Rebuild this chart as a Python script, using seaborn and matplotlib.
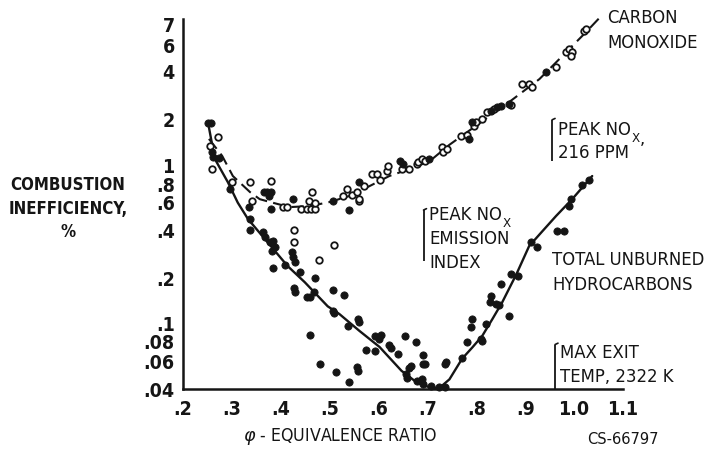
import os
import matplotlib
matplotlib.use("Agg")
import matplotlib.pyplot as plt
import matplotlib.font_manager as fm
import matplotlib.transforms as mtransforms
from matplotlib.ticker import NullFormatter
import seaborn as sns

# ---- carbon monoxide (open symbols) ----
co_phi = [0.271, 0.255, 0.259, 0.300, 0.337, 0.341, 0.380, 0.404, 0.412, 0.441,
          0.453, 0.461, 0.471, 0.463, 0.457, 0.471, 0.427, 0.427, 0.478, 0.508,
          0.527, 0.535, 0.545, 0.555, 0.559, 0.561, 0.571, 0.586, 0.596, 0.602,
          0.618, 0.620, 0.647, 0.663, 0.678, 0.680, 0.688, 0.694, 0.729, 0.731,
          0.739, 0.769, 0.780, 0.796, 0.800, 0.812, 0.822, 0.837, 0.871, 0.894,
          0.908, 0.914, 0.963, 0.984, 0.990, 0.996, 0.994, 1.020, 1.024]
co_val = [1.52, 1.33, 0.96, 0.79, 0.79, 0.60, 0.81, 0.55, 0.55, 0.54,
          0.54, 0.54, 0.54, 0.69, 0.60, 0.59, 0.40, 0.333, 0.258, 0.32,
          0.65, 0.72, 0.66, 0.69, 0.60, 0.62, 0.75, 0.89, 0.89, 0.82,
          0.93, 1.00, 0.96, 0.96, 1.03, 1.06, 1.10, 1.08, 1.31, 1.22,
          1.28, 1.54, 1.56, 1.78, 1.90, 1.97, 2.18, 2.27, 2.40, 3.27,
          3.27, 3.13, 4.20, 5.19, 5.41, 5.19, 4.90, 7.00, 7.20]

# ---- total unburned hydrocarbons (filled symbols) ----
uhc_phi = [0.251, 0.257, 0.259, 0.261, 0.273, 0.296, 0.335, 0.337, 0.337, 0.365,
           0.371, 0.380, 0.375, 0.380, 0.424, 0.506, 0.539, 0.559, 0.643, 0.651,
           0.704, 0.786, 0.792, 0.831, 0.843, 0.851, 0.867, 0.943,
           0.363, 0.367, 0.378, 0.384, 0.388, 0.382, 0.384, 0.408, 0.422, 0.424,
           0.429, 0.439, 0.427, 0.429, 0.470, 0.453, 0.459, 0.467, 0.506, 0.529,
           0.506, 0.508, 0.537, 0.557, 0.561, 0.459, 0.480, 0.512, 0.539, 0.555,
           0.557, 0.575, 0.592, 0.592, 0.600, 0.604, 0.622, 0.626, 0.639, 0.655,
           0.676, 0.690, 0.690, 0.696, 0.667, 0.663, 0.657, 0.659, 0.678, 0.688,
           0.690, 0.708, 0.724, 0.735, 0.737, 0.735, 0.771, 0.780, 0.790, 0.792,
           0.810, 0.812, 0.820, 0.831, 0.827, 0.841, 0.847, 0.851, 0.867, 0.871,
           0.886, 0.912, 0.924, 0.965, 0.980, 0.990, 0.994, 1.016, 1.031]
uhc_val = [1.86, 1.86, 1.22, 1.14, 1.12, 0.72, 0.55, 0.465, 0.40, 0.69,
           0.69, 0.69, 0.65, 0.54, 0.62, 0.60, 0.53, 0.79, 1.07, 1.03,
           1.10, 1.48, 1.89, 2.20, 2.34, 2.38, 2.45, 3.88,
           0.386, 0.36, 0.333, 0.338, 0.31, 0.292, 0.23, 0.24, 0.288, 0.27,
           0.25, 0.216, 0.172, 0.162, 0.20, 0.15, 0.15, 0.162, 0.167, 0.155,
           0.123, 0.12, 0.10, 0.11, 0.105, 0.087, 0.057, 0.051, 0.044, 0.055,
           0.052, 0.070, 0.069, 0.086, 0.082, 0.087, 0.076, 0.072, 0.066, 0.086,
           0.079, 0.065, 0.057, 0.057, 0.056, 0.054, 0.050, 0.047, 0.045, 0.046,
           0.043, 0.042, 0.041, 0.041, 0.059, 0.057, 0.063, 0.079, 0.098, 0.110,
           0.082, 0.080, 0.102, 0.153, 0.140, 0.137, 0.135, 0.182, 0.114, 0.210,
           0.205, 0.334, 0.310, 0.390, 0.390, 0.560, 0.620, 0.760, 0.820]

# ---- faired curves ----
co_curve_phi = [0.253, 0.280, 0.302, 0.337, 0.357, 0.378, 0.418, 0.459, 0.500, 0.541,
                0.582, 0.622, 0.663, 0.704, 0.745, 0.806, 0.873, 0.929, 0.976, 1.024,
                1.055]
co_curve_val = [1.48, 1.16, 0.866, 0.687, 0.62, 0.595, 0.553, 0.561, 0.595, 0.65,
                0.75, 0.866, 0.958, 1.07, 1.36, 1.85, 2.6, 3.51, 4.9, 6.9,
                8.7]
uhc_curve_phi = [0.251, 0.265, 0.292, 0.312, 0.333, 0.373, 0.414, 0.449, 0.496, 0.520,
                 0.561, 0.602, 0.647, 0.678, 0.704, 0.724, 0.745, 0.771, 0.792, 0.812,
                 0.833, 0.853, 0.882, 0.908, 0.935, 0.963, 0.996, 1.037]
uhc_curve_val = [1.89, 1.11, 0.79, 0.59, 0.465, 0.333, 0.236, 0.187, 0.132, 0.118,
                 0.0925, 0.0734, 0.052, 0.044, 0.041, 0.0405, 0.046, 0.062, 0.073, 0.086,
                 0.110, 0.140, 0.21, 0.315, 0.39, 0.486, 0.62, 0.866]

# ---- axis ticks ----
x_ticks = [0.2, 0.3, 0.4, 0.5, 0.6, 0.7, 0.8, 0.9, 1.0, 1.1]
x_labels = [".2", ".3", ".4", ".5", ".6", ".7", ".8", ".9", "1.0", "1.1"]
y_major = [7, 6, 4, 2, 1, 0.8, 0.6, 0.4, 0.2, 0.1, 0.08, 0.06, 0.04]
y_labels = ["7", "6", "4", "2", "1", ".8", ".6", ".4", ".2", ".1", ".08", ".06", ".04"]
y_minor = [5, 3, 0.9, 0.7, 0.5, 0.3, 0.09, 0.07, 0.05]

# equivalence ratios marked by the brackets
peak_nox_ppm_phi = 0.955
peak_nox_ei_phi = 0.692
max_temp_phi = 0.961

INK = "#151515"
W, H = 708, 452

sns.set_theme(style="white")


def find_font(keys):
    for k in keys:
        for f in fm.fontManager.ttflist:
            base = os.path.basename(f.fname).lower()
            if k.lower() in base and "italic" not in base and "oblique" not in base:
                return f.fname
    return None


REG_PATH = find_font(["DejaVuSansCondensed.ttf", "RobotoCondensed-Regular",
                      "LiberationSansNarrow-Regular", "Condensed-Regular",
                      "Narrow-Regular"])
BOLD_PATH = find_font(["DejaVuSansCondensed-Bold", "RobotoCondensed-Bold",
                       "LiberationSansNarrow-Bold", "Condensed-Bold", "Narrow-Bold"])


def font(size, bold=False):
    path = BOLD_PATH if bold else REG_PATH
    if path:
        return fm.FontProperties(fname=path, size=size)
    return fm.FontProperties(family="Liberation Sans", size=size,
                             weight="bold" if bold else "normal")


def fx(px):
    return px / W


def fy(py):
    return 1 - py / H


fig = plt.figure(figsize=(W / 100, H / 100), dpi=100)
fig.patch.set_facecolor("white")
ax = fig.add_axes([fx(183), 62 / H, 440 / W, 370 / H])
ax.set_facecolor("white")
ax.set_yscale("log")
ax.set_xlim(0.2, 1.1)
ax.set_ylim(0.04, 8.36)

# faired curves
sns.lineplot(x=co_curve_phi, y=co_curve_val, sort=False, estimator=None, ax=ax,
             color=INK, linewidth=1.5, linestyle=(0, (6, 3)), clip_on=False, zorder=2)
sns.lineplot(x=uhc_curve_phi, y=uhc_curve_val, sort=False, estimator=None, ax=ax,
             color=INK, linewidth=1.7, clip_on=False, zorder=2)

# data symbols
sns.scatterplot(x=co_phi, y=co_val, ax=ax, marker="o", s=22, color="white",
                edgecolor=INK, linewidth=1.3, clip_on=False, zorder=3)
sns.scatterplot(x=uhc_phi, y=uhc_val, ax=ax, marker="o", s=27, color=INK,
                edgecolor=INK, linewidth=0.6, clip_on=False, zorder=4)

# axes styling
for side in ("top", "right"):
    ax.spines[side].set_visible(False)
for side in ("left", "bottom"):
    ax.spines[side].set_color(INK)
    ax.spines[side].set_linewidth(1.8)

tick_font = font(14, bold=True)
ax.set_xticks(x_ticks)
ax.set_xticklabels(x_labels)
ax.set_yticks(y_major)
ax.set_yticklabels(y_labels)
ax.set_yticks(y_minor, minor=True)
ax.yaxis.set_minor_formatter(NullFormatter())
ax.xaxis.set_minor_formatter(NullFormatter())
ax.tick_params(axis="x", which="major", direction="in", length=11, width=1.6,
               color=INK, pad=7)
ax.tick_params(axis="x", which="minor", length=0)
ax.tick_params(axis="y", which="major", direction="in", length=12, width=1.6,
               color=INK, pad=6)
ax.tick_params(axis="y", which="minor", direction="in", length=7, width=1.4,
               color=INK)
ax.set_xlabel("")
ax.set_ylabel("")

fig.canvas.draw()
renderer = fig.canvas.get_renderer()


def fit_size(texts, ref, target_px):
    """Scale a group of texts so that `ref` is target_px wide."""
    w = ref.get_window_extent(renderer).width
    k = target_px / w
    for t in texts:
        t.set_fontsize(t.get_fontsize() * k)


# tick labels, sized so that ".6" is about 19 px wide
for lab in ax.get_xticklabels() + ax.get_yticklabels():
    lab.set_fontproperties(tick_font)
    lab.set_color(INK)
ylabs = ax.get_yticklabels()
probe = fig.text(0, 0, ".6", fontproperties=tick_font)
w6 = probe.get_window_extent(renderer).width
probe.remove()
tick_size = min(15.0, 14 * 19.0 / w6)
for lab in ax.get_xticklabels() + ylabs:
    lab.set_fontsize(tick_size)


# crowded labels are nudged apart
def nudge(lab, dy_px):
    lab.set_transform(lab.get_transform() +
                      mtransforms.ScaledTranslation(0, dy_px / 100, fig.dpi_scale_trans))


nudge(ylabs[0], 8)    # 7
nudge(ylabs[1], -3)   # 6
nudge(ylabs[4], 2)    # 1
nudge(ylabs[5], -2)   # .8
nudge(ylabs[9], 3)    # .1

# axis titles
ylab_font = font(13.5, bold=True)
ylab_texts = []
for txt, py in (("COMBUSTION", 185), ("INEFFICIENCY,", 209), ("%", 232)):
    ylab_texts.append(fig.text(fx(68), fy(py), txt, ha="center", va="center",
                               fontproperties=ylab_font, color=INK))
fit_size(ylab_texts, ylab_texts[0], 115)

lab_font = font(14.5)
xl = fig.text(fx(340), fy(437), r"$\varphi$ - EQUIVALENCE RATIO", ha="center",
              va="center", fontproperties=lab_font, color=INK)
fit_size([xl], xl, 194)
fig.text(fx(623), fy(440), "CS-66797", ha="center", va="center",
         fontproperties=fm.FontProperties(family="DejaVu Sans", size=10.5),
         color=INK)

# curve labels
ann_font = font(14.5)
ann = []


def label(px, py, txt):
    t = fig.text(fx(px), fy(py), txt, ha="left", va="center",
                 fontproperties=ann_font, color=INK)
    ann.append(t)
    return t


label(607, 18, "CARBON")
label(607, 43, "MONOXIDE")
tot = label(552, 260, "TOTAL UNBURNED")
label(552, 285, "HYDROCARBONS")
p1 = label(558, 130, "PEAK NO")
label(558, 153, "216 PPM")
p2 = label(429, 215, "PEAK NO")
label(429, 239, "EMISSION")
label(429, 263, "INDEX")
label(560, 353, "MAX EXIT")
label(560, 377, "TEMP, 2322 K")
fit_size(ann, tot, 153)
sub_size = ann[0].get_fontsize() * 0.72

s1 = ax.annotate("X", xy=(1, 0.1), xycoords=p1, xytext=(0.3, -1),
                 textcoords="offset points", ha="left", va="center",
                 fontproperties=font(sub_size), color=INK, annotation_clip=False)
ax.annotate(",", xy=(1, 0.5), xycoords=s1, xytext=(0.3, 0),
            textcoords="offset points", ha="left", va="center",
            fontproperties=font(ann[0].get_fontsize()), color=INK,
            annotation_clip=False)
ax.annotate("X", xy=(1, 0.1), xycoords=p2, xytext=(0.3, -1),
            textcoords="offset points", ha="left", va="center",
            fontproperties=font(sub_size), color=INK, annotation_clip=False)


# brackets marking the equivalence ratios
def bracket(phi, lo, hi):
    ax.plot([phi, phi], [lo, hi], color=INK, linewidth=1.3, clip_on=False,
            solid_capstyle="butt")
    ax.plot([phi, phi + 0.006], [hi, hi * 1.02], color=INK, linewidth=1.2,
            clip_on=False)


bracket(peak_nox_ppm_phi, 1.08, 1.95)
bracket(peak_nox_ei_phi, 0.255, 0.53)
bracket(max_temp_phi, 0.04, 0.076)

fig.savefig("out.png", dpi=100, facecolor="white")
